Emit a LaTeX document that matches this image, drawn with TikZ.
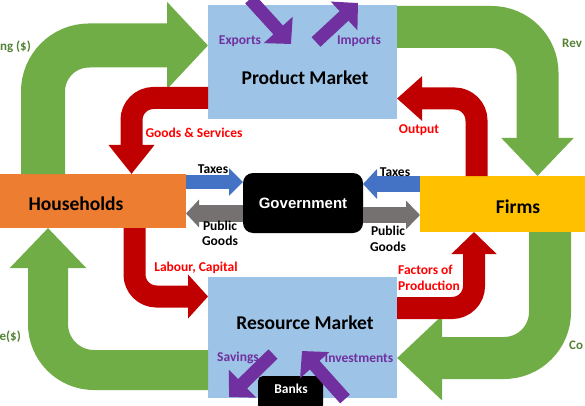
\documentclass[tikz,border=0pt]{standalone}
\usepackage{fontspec}
\setmainfont{Carlito}
\newfontfamily\govfont{Liberation Sans}
\usetikzlibrary{arrows.meta,calc}
\definecolor{cgreen}{HTML}{70AD47}
\definecolor{cgreentext}{HTML}{548235}
\definecolor{cdred}{HTML}{C00000}
\definecolor{cred}{HTML}{FF0000}
\definecolor{corange}{HTML}{ED7D31}
\definecolor{cyellow}{HTML}{FFC000}
\definecolor{cblue}{HTML}{4472C4}
\definecolor{cgray}{HTML}{767171}
\definecolor{clblue}{HTML}{9DC3E6}
\definecolor{cpurple}{HTML}{7030A0}
\begin{document}
\begin{tikzpicture}[x=1pt,y=-1pt,
  box/.style={rectangle, draw=none, inner sep=0pt, outer sep=0pt},
  boxtext/.style={inner sep=0pt, font=\bfseries\fontsize{19.5}{24}\selectfont},
  lbl/.style={inner sep=0pt, align=center, font=\bfseries\fontsize{13.5}{15.5}\selectfont},
  flowtext/.style={inner sep=0pt, text=cgreentext, font=\bfseries\fontsize{13}{15}\selectfont},
  bigflow/.style={draw=cgreen, line width=#1, rounded corners=46pt},
  redflow/.style={draw=cdred, line width=#1, rounded corners=22pt},
  straight/.style={line width=#1},
  purp/.style={draw=cpurple, line width=13pt, -{Triangle[length=19pt,width=38pt]}}
]
\useasboundingbox (0,0) rectangle (585,406);
\clip (0,0) rectangle (585,406);

% boxes
\node[box, fill=clblue, minimum width=189pt, minimum height=114pt] (pm) at (302.5,62) {};
\node[box, fill=clblue, minimum width=189pt, minimum height=121pt] (rm) at (302.5,337.5) {};
\node[box, fill=corange, minimum width=186pt, minimum height=54pt] (hh) at (93,201) {};
\node[box, fill=cyellow, minimum width=196pt, minimum height=56pt] (firms) at (518,204) {};
\node[box, fill=black, rounded corners=10pt, minimum width=120pt, minimum height=60pt] (gov) at (303,203) {};
\node[box, fill=black, rounded corners=5pt, minimum width=65pt, minimum height=34pt] (banks) at (290.5,393) {};

% box texts
\node[boxtext] (pmt) at (305,78) {Product Market};
\node[boxtext] (rmt) at (305,323) {Resource Market};
\node[boxtext] (hht) at (76,204) {Households};
\node[boxtext] (firmst) at (518,207) {Firms};
\node[inner sep=0pt, text=white, font=\govfont\bfseries\fontsize{15}{17}\selectfont] (govt) at (303,203) {Government};
\node[lbl, text=white] (bankst) at (291,389) {Banks};

% green money flows
\draw[bigflow=44pt, -{Triangle[length=41pt,width=85pt]}]
  ([xshift=43pt]hh.north west) -- (43,45.5) -- ([yshift=16.5pt]pm.west);
\draw[bigflow=42pt, -{Triangle[length=38pt,width=70pt]}]
  ([yshift=35pt]pm.east) -- (537.5,27) -- ([xshift=19.5pt]firms.north);
\draw[bigflow=40pt, -{Triangle[length=40pt,width=74pt]}]
  ([yshift=-32.5pt]rm.west) -- (48,370) -- ([xshift=48pt]hh.south west);
\draw[bigflow=42pt, -{Triangle[length=45pt,width=82pt]}]
  ([xshift=32pt]firms.south) -- (550,358) -- ([yshift=-20.5pt]rm.east);

% red real flows
\draw[redflow=22pt, -{Triangle[length=29pt,width=44pt]}]
  ([yshift=-36pt]pm.west) -- (131.5,98) -- ([xshift=131.5pt]hh.north west);
\draw[redflow=22pt, -{Triangle[length=25pt,width=43pt]}]
  ([xshift=-41.5pt]firms.north) -- (476.5,98.5) -- ([yshift=-36.5pt]pm.east);
\draw[redflow=22pt, -{Triangle[length=20pt,width=43pt]}]
  ([xshift=134.5pt]hh.south west) -- (134.5,296.5) -- ([yshift=41pt]rm.west);
\draw[redflow=22pt, -{Triangle[length=22pt,width=44pt]}]
  ([yshift=29.5pt]rm.east) -- (474,308) -- ([xshift=-44pt]firms.south);

% government flows
\draw[straight=14pt, draw=cblue, -{Triangle[length=14pt,width=27pt]}]
  ([yshift=19pt]hh.east) -- ([yshift=21pt]gov.west);
\draw[straight=16pt, draw=cblue, -{Triangle[length=14pt,width=29pt]}]
  ([yshift=20pt]firms.west) -- ([yshift=19pt]gov.east);
\draw[straight=17pt, draw=cgray, -{Triangle[length=13pt,width=27pt]}]
  ([yshift=-10.5pt]gov.west) -- ([yshift=-12.5pt]hh.east);
\draw[straight=16pt, draw=cgray, -{Triangle[length=14pt,width=28pt]}]
  ([yshift=-12pt]gov.east) -- ([yshift=-11pt]firms.west);

% purple flows
\coordinate (ex1) at (250,-1);
\coordinate (ex2) at (291,44);
\coordinate (im1) at (316,42);
\coordinate (im2) at (358,3);
\coordinate (sv1) at (273,354);
\coordinate (sv2) at (229,397);
\coordinate (iv1) at (345,399);
\coordinate (iv2) at (302,351);
\draw[purp] (ex1) -- (ex2);
\draw[purp] (im1) -- (im2);
\draw[purp] (sv1) -- (sv2);
\draw[purp] (iv1) -- (iv2);

% labels
\node[lbl, text=cpurple] (lex) at (240,41) {Exports};
\node[lbl, text=cpurple] (lim) at (359,41) {Imports};
\node[lbl, text=cpurple] (lsv) at (238,358) {Savings};
\node[lbl, text=cpurple] (liv) at (359,358) {Investments};
\node[lbl, text=cred] (lgs) at (194,133) {Goods \& Services};
\node[lbl, text=cred] (lout) at (419,130) {Output};
\node[lbl, text=cred] (llc) at (196,268) {Labour, Capital};
\node[lbl, text=cred, align=left, anchor=west] (lfp) at (398,278) {Factors of\\Production};
\node[lbl] (ltx1) at (213,169) {Taxes};
\node[lbl] (ltx2) at (395,172) {Taxes};
\node[lbl] (lpg1) at (220,233.5) {Public\\Goods};
\node[lbl] (lpg2) at (388,239) {Public\\Goods};
\node[flowtext, anchor=east] (lsp) at (31,47) {ng (\$)};
\node[flowtext, anchor=west] (lrv) at (562,43) {Rev};
\node[flowtext, anchor=east] (lin) at (21,337) {e(\$)};
\node[flowtext, anchor=west] (lco) at (569,345) {Co};
\end{tikzpicture}
\end{document}
